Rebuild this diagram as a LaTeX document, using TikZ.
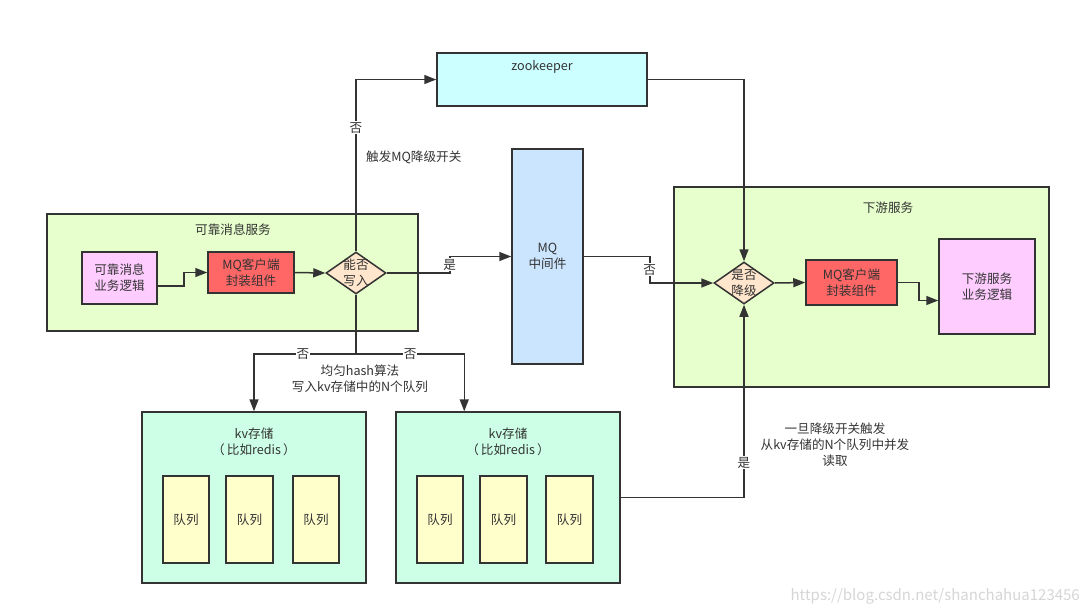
\documentclass[tikz,border=0pt]{standalone}
\usepackage{fontspec}
\setmainfont{Noto Sans CJK SC}
\usetikzlibrary{arrows.meta,shapes.geometric,calc}
\definecolor{linec}{HTML}{333333}
\definecolor{txtc}{HTML}{333333}
\definecolor{grp}{HTML}{E6FFCC}
\definecolor{zkc}{HTML}{CCFFFF}
\definecolor{mqc}{HTML}{CCE5FF}
\definecolor{kvc}{HTML}{CCFFE6}
\definecolor{qc}{HTML}{FFFFCC}
\definecolor{redc}{HTML}{FF6666}
\definecolor{pinkc}{HTML}{FFCCFF}
\definecolor{dmc}{HTML}{FFE6CC}
\tikzset{
  every node/.style={text=txtc, font=\fontsize{12.6}{16}\selectfont},
  box/.style={draw=linec, line width=1.5pt, rectangle, inner sep=0pt, align=center},
  dmd/.style={draw=linec, line width=1.5pt, diamond, fill=dmc, inner sep=0pt, minimum width=60pt, minimum height=42pt},
  arr/.style={draw=linec, line width=1.5pt, -{Triangle[length=12pt,width=9pt]}},
  ln/.style={draw=linec, line width=1.5pt},
  lab/.style={fill=white, inner sep=1pt},
  plain/.style={align=center, inner sep=0pt},
}
\newcommand{\bx}[6]{% name, fill, x1, y1, x2, y2
  \node[box, fill=#2, minimum width={#5-#3}, minimum height={#6-#4}] (#1) at ({(#3+#5)/2},{(#4+#6)/2}) {};}
\begin{document}
\begin{tikzpicture}[x=1pt,y=-1pt]
\useasboundingbox (0,0) rectangle (1080,614);
\fill[white] (0,0) rectangle (1080,614);
% groups
\bx{g1}{grp}{47}{214}{418}{331}
\node[plain] (g1t) at (233,230) {可靠消息服务};
\bx{g2}{grp}{674}{187}{1049}{387}
\node[plain] (g2t) at (888,208) {下游服务};
% zookeeper
\bx{zk}{zkc}{437}{53}{647}{106}
\node[plain] (zkt) at (542,67) {zookeeper};
% MQ
\node[box, fill=mqc, minimum width=71pt, minimum height=215pt] (mq) at (547.5,256.5) {MQ\\中间件};
% left service
\node[box, fill=pinkc, minimum width=75pt, minimum height=52pt] (p1) at (119.5,278) {可靠消息\\业务逻辑};
\node[box, fill=redc, minimum width=86pt, minimum height=41pt] (r1) at (251,272.5) {MQ客户端\\封装组件};
\node[dmd, label={[plain]center:能否\\写入}] (d1) at (356,273) {};
% right service
\node[dmd, label={[plain]center:是否\\降级}] (d2) at (744,283) {};
\node[box, fill=redc, minimum width=91pt, minimum height=45pt] (r2) at (851.5,282.5) {MQ客户端\\封装组件};
\node[box, fill=pinkc, minimum width=96pt, minimum height=95pt] (p2) at (987,286.5) {下游服务\\业务逻辑};
% kv stores
\bx{kv1}{kvc}{142}{412}{366}{583}
\node[plain] (kv1t) at (254,442) {kv存储\\（\,比如redis\,）};
\bx{kv2}{kvc}{396}{412}{620}{583}
\node[plain] (kv2t) at (508,442) {kv存储\\（\,比如redis\,）};
\node[box, fill=qc, minimum width=46pt, minimum height=87pt] (q11) at (186,519.5) {队列};
\node[box, fill=qc, minimum width=47pt, minimum height=87pt] (q12) at (249.5,519.5) {队列};
\node[box, fill=qc, minimum width=46pt, minimum height=87pt] (q13) at (316,519.5) {队列};
\node[box, fill=qc, minimum width=46pt, minimum height=87pt] (q21) at (440,519.5) {队列};
\node[box, fill=qc, minimum width=47pt, minimum height=87pt] (q22) at (503.5,519.5) {队列};
\node[box, fill=qc, minimum width=47pt, minimum height=87pt] (q23) at (569.5,519.5) {队列};
% connectors
\draw[arr] ($(p1.east)+(0,8)$) -- ++(26,0) |- (r1.west);
\draw[arr] (r1.east) -- (d1.west);
\draw[arr] (d1.north) |- node[pos=0.36,lab]{否} (zk.west);
\draw[arr] (d1.east) -- ++(63,0) |- node[pos=0.25,lab]{是} (mq.west);
\draw[arr] (mq.east) -- ++(66,0) |- node[pos=0.25,lab]{否} (d2.west);
\draw[arr] (zk.east) -| (d2.north);
\draw[arr] (kv2.east) -| node[pos=0.59,lab]{是} (d2.south);
\draw[arr] (d2.east) -- (r2.west);
\draw[arr] (r2.east) -- ++(21,0) |- ($(p2.west)+(0,14)$);
\coordinate (split) at ($(d1.south)+(0,59)$);
\coordinate (kv2in) at ($(kv2.north west)+(69,0)$);
\draw[ln] (d1.south) -- (split);
\draw[arr] (split) -| node[pos=0.26,lab]{否} (kv1.north);
\draw[arr] (split) -| node[pos=0.25,lab]{否} (kv2in);
% free texts
\node[plain, anchor=west] (t1) at (366,157) {触发MQ降级开关};
\node[plain] (t2) at (360,378.5) {均匀hash算法\\写入kv存储中的N个队列};
\node[plain] (t3) at (835,445) {一旦降级开关触发\\从kv存储的N个队列中并发\\读取};
\node[plain, anchor=east, text=black!16, font=\fontsize{15}{17}\selectfont] (wm) at (1080,596) {https://blog.csdn.net/shanchahua123456};
\end{tikzpicture}
\end{document}
